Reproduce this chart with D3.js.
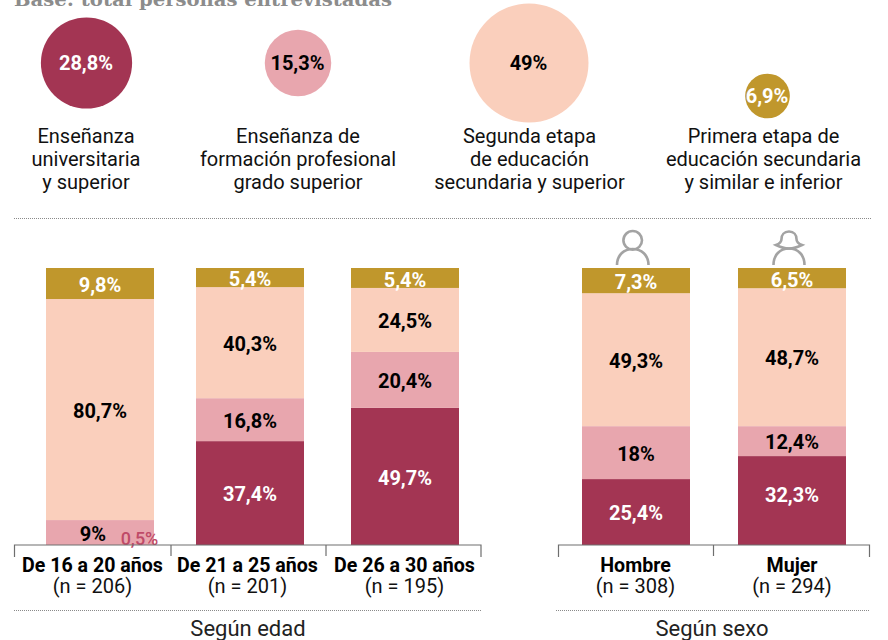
<!DOCTYPE html>
<html><head><meta charset="utf-8">
<script src="https://cdn.jsdelivr.net/npm/d3@7"></script>
<style>html,body{margin:0;padding:0;background:#fff}svg{display:block}text{font-family:Roboto,sans-serif}</style>
</head><body><svg id="c" width="888" height="640"></svg>
<script>
const levels = ["Enseñanza universitaria y superior","Enseñanza de formación profesional grado superior","Segunda etapa de educación secundaria y superior","Primera etapa de educación secundaria y similar e inferior"];
const levelLines = [["Enseñanza","universitaria","y superior"],["Enseñanza de","formación profesional","grado superior"],["Segunda etapa","de educación","secundaria y superior"],["Primera etapa de","educación secundaria","y similar e inferior"]];
const totals = [28.8,15.3,49,6.9];
const totalLabels = ["28,8%","15,3%","49%","6,9%"];
const ageCats = ["De 16 a 20 años","De 21 a 25 años","De 26 a 30 años"];
const ageN = ["(n = 206)","(n = 201)","(n = 195)"];
// printed labels
const ageUniLabels = ["0,5%","37,4%","49,7%"];
const ageFpLabels = ["9%","16,8%","20,4%"];
const ageSecLabels = ["80,7%","40,3%","24,5%"];
const agePriLabels = ["9,8%","5,4%","5,4%"];
// segment shares as they are drawn in the picture (% of bar height)
const ageUni = [0,37.5,49.5];
const ageFp = [9,15.5,20.2];
const ageSec = [79.8,40.1,23.1];
const agePri = [11.2,6.9,7.2];
const sexCats = ["Hombre","Mujer"];
const sexN = ["(n = 308)","(n = 294)"];
const sexUniLabels = ["25,4%","32,3%"];
const sexFpLabels = ["18%","12,4%"];
const sexSecLabels = ["49,3%","48,7%"];
const sexPriLabels = ["7,3%","6,5%"];
const sexUni = [23.8,32.1];
const sexFp = [19.1,10.8];
const sexSec = [48,49.8];
const sexPri = [9.1,7.3];
const colors = ["#a33553","#e8a6ae","#facfbc","#c0972c"];
const textColors = ["#fff","#000","#000","#fff"];

const svg = d3.select("#c");
const dots = (x1,x2,y)=>svg.append("line").attr("x1",x1).attr("x2",x2).attr("y1",y).attr("y2",y)
  .attr("stroke","#8a8a8a").attr("stroke-width",1).attr("stroke-dasharray","1 1");

svg.append("text").attr("x",14).attr("y",6).attr("fill","#8c8c8c").attr("font-size",19).attr("font-weight",700)
  .style("font-family","'DejaVu Serif',serif").attr("textLength",378).attr("lengthAdjust","spacingAndGlyphs").text("Base: total personas entrevistadas");

// bubbles
const r = d3.scaleSqrt().domain([0,49]).range([0,59.5]);
const bx = d3.scaleOrdinal().domain(levels).range([86.5,298,529,767.5]);
const by = d3.scaleOrdinal().domain(levels).range([63,63,63,96]);
const lx = d3.scaleOrdinal().domain(levels).range([86,298,529.5,763.5]);
levels.forEach((l,i)=>{
  svg.append("circle").attr("cx",bx(l)).attr("cy",by(l)).attr("r",r(totals[i])).attr("fill",colors[i]);
  svg.append("text").attr("x",bx(l)-0.5).attr("y",by(l)-0.5).attr("dy","0.36em").attr("text-anchor","middle")
    .attr("font-size",20).attr("font-weight",700).attr("fill",textColors[i]).text(totalLabels[i]);
  levelLines[i].forEach((t,j)=>svg.append("text").attr("x",lx(l)).attr("y",143+j*22.8).attr("text-anchor","middle")
    .attr("font-size",20).attr("fill","#111").text(t));
});
dots(14,871,218.5);

// bars
const y = d3.scaleLinear().domain([0,100]).range([545,268]);
function group(cats,ns,series,labels,lefts,ticks,labelX,title,titleX,lineX){
  const x = d3.scaleOrdinal().domain(cats).range(lefts);
  const lab = d3.scaleOrdinal().domain(cats).range(labelX);
  const stacked = d3.stack().keys([0,1,2,3]).value((d,k)=>series[k][cats.indexOf(d)])(cats);
  stacked.forEach((s,k)=>{
    svg.append("g").selectAll("rect").data(s).join("rect")
      .attr("x",d=>x(d.data)).attr("width",108).attr("y",d=>y(d[1])).attr("height",d=>y(d[0])-y(d[1])).attr("fill",colors[k]);
  });
  stacked.forEach((s,k)=>{
    s.forEach((d,i)=>{
      const small = d[1]-d[0]<1;
      const t = labels[k][i];
      if(small){
        svg.append("text").attr("x",x(d.data)+93.5).attr("y",y(0)-0.5).attr("text-anchor","middle")
          .attr("font-size",18).attr("font-weight",500).attr("fill","#bf4a68").text(t);
        return;
      }
      const nudgeX = t==="9%" ? -7 : 0;
      const nudgeY = t==="32,3%" ? -6 : (k===3 ? 1.5 : 1);
      svg.append("text").attr("x",x(d.data)+54+nudgeX).attr("y",(y(d[0])+y(d[1]))/2+nudgeY).attr("dy","0.36em").attr("text-anchor","middle")
        .attr("font-size",20).attr("font-weight",700).attr("fill",textColors[k]).text(t);
    });
  });
  const bracket = "M"+ticks[0]+",557V545H"+ticks[ticks.length-1]+"V557";
  svg.append("path").attr("d",bracket).attr("fill","none").attr("stroke","#6e6e6e").attr("stroke-width",1.2);
  ticks.slice(1,-1).forEach(t=>svg.append("line").attr("x1",t).attr("x2",t).attr("y1",545).attr("y2",556).attr("stroke","#6e6e6e").attr("stroke-width",1.2));
  cats.forEach((c,i)=>{
    svg.append("text").attr("x",lab(c)).attr("y",571.5).attr("text-anchor","middle").attr("font-size",19.6).attr("font-weight",700).attr("fill","#000").text(c);
    svg.append("text").attr("x",lab(c)).attr("y",593).attr("text-anchor","middle").attr("font-size",20).attr("fill","#111").text(ns[i]);
  });
  dots(lineX[0],lineX[1],610.5);
  svg.append("text").attr("x",titleX).attr("y",635.5).attr("text-anchor","middle").attr("font-size",22).attr("fill","#222").text(title);
}
group(ageCats,ageN,[ageUni,ageFp,ageSec,agePri],[ageUniLabels,ageFpLabels,ageSecLabels,agePriLabels],[46,196,351],[14.5,171,326,481],[92.5,247.5,404.5],"Según edad",248,[14,481]);
group(sexCats,sexN,[sexUni,sexFp,sexSec,sexPri],[sexUniLabels,sexFpLabels,sexSecLabels,sexPriLabels],[582,738],[558.5,713.5,869.5],[635.5,792],"Según sexo",712,[556,870]);

// icons
const ic = svg.append("g").attr("fill","none").attr("stroke","#a3a3a3").attr("stroke-width",2.6);
ic.append("circle").attr("cx",632.7).attr("cy",240.3).attr("r",9.3);
ic.append("path").attr("d","M617,265 C617,255 624,249 632.7,249 C641.4,249 648.5,255 648.5,265");
ic.append("path").attr("d","M789,231.5 C784,231.5 781.5,235 781.5,239 C781.5,242 779,244 776,245 C780,247 785,248.5 789,248.5 C793,248.5 798,247 802,245 C799,244 796.5,242 796.5,239 C796.5,235 794,231.5 789,231.5Z");
ic.append("path").attr("d","M773.5,265 C773.5,255 780,248.5 789,248.5 C798,248.5 804.5,255 804.5,265");
</script></body></html>
